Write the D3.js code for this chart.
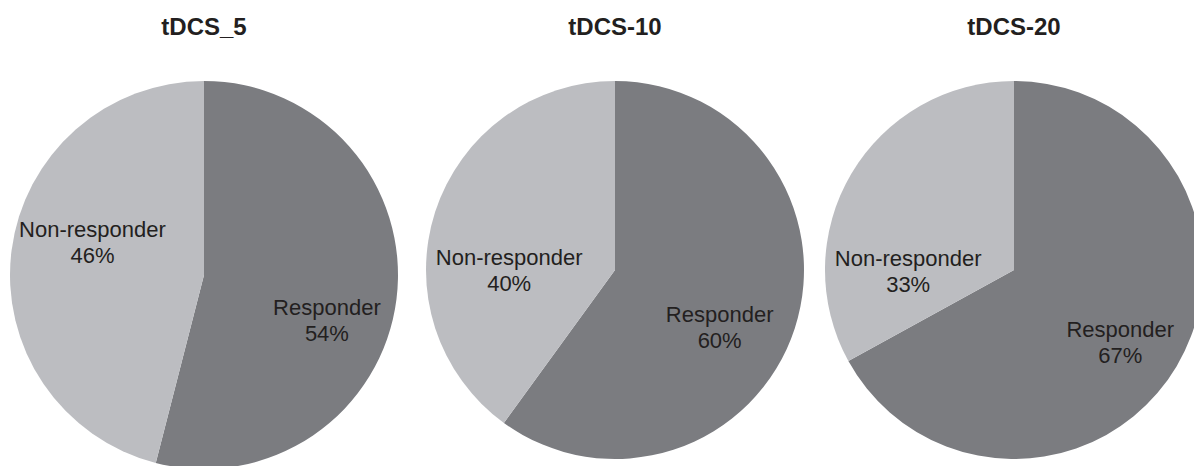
<!DOCTYPE html>
<html>
<head>
<meta charset="utf-8">
<script src="https://cdn.jsdelivr.net/npm/d3@7"></script>
<style>
	html, body { margin: 0; padding: 0; background: #fff; }
	svg { display: block; font-family: "Liberation Sans", Arial, sans-serif; }
	.title { font-weight: bold; font-size: 24px; fill: #231f20; }
	.label { font-size: 22px; fill: #231f20; }
</style>
</head>
<body>
<svg id="pies"></svg>
<script>
const Width = 1194;
const Height = 466;

// chart data
const groups = ["tDCS_5", "tDCS-10", "tDCS-20"];
const categories = ["Responder", "Non-responder"];
const responder = [54, 60, 67];
const nonResponder = [46, 40, 33];

const svg = d3.select("#pies").attr("width", Width).attr("height", Height);

// layout per pie: centre x and radius, all tops sit on the same line
const cx = d3.scaleOrdinal().domain(groups).range([204, 615, 1014]);
const radius = d3.scaleOrdinal().domain(groups).range([194, 189, 189]);
const pieTop = 81;

// where the labels sit: turn away from the slice's middle angle (degrees) and fraction of radius
// (the original labels were placed by hand, not on the centroid)
const labelTurn = { "Responder": [13, 10.5, 3.6], "Non-responder": [9.4, -18, -31.1] };
const labelDist = { "Responder": [0.675, 0.63, 0.68], "Non-responder": [0.6, 0.56, 0.56] };

const color = d3.scaleOrdinal().domain(categories).range(["#7b7c80", "#bcbdc1"]);

// responder first, starting at 12 o'clock and going clockwise
const pie = d3.pie().sort(null).value(d => d.value);

groups.forEach((g, i) => {
	const r = radius(g);
	const slices = pie([
		{ name: categories[0], value: responder[i] },
		{ name: categories[1], value: nonResponder[i] }
	]);
	const arc = d3.arc().innerRadius(0).outerRadius(r);

	const pieG = svg.append("g").attr("transform", `translate(${cx(g)},${pieTop + r})`);
	pieG.selectAll("path").data(slices).enter().append("path")
		.attr("d", arc)
		.attr("fill", d => color(d.data.name));

	const labelPoint = d => {
		const a = (d.startAngle + d.endAngle) / 2 + labelTurn[d.data.name][i] * Math.PI / 180;
		const dist = r * labelDist[d.data.name][i];
		return [Math.sin(a) * dist, -Math.cos(a) * dist];
	};

	// labels: name on one line, percent under it
	const labels = pieG.selectAll("text.label").data(slices).enter().append("text")
		.attr("class", "label")
		.attr("text-anchor", "middle")
		.attr("transform", d => `translate(${labelPoint(d)})`);
	labels.append("tspan").attr("x", 0).attr("y", -5).text(d => d.data.name);
	labels.append("tspan").attr("x", 0).attr("y", 21).text(d => d.data.value + "%");

	svg.append("text").attr("class", "title")
		.attr("x", cx(g)).attr("y", 35)
		.attr("text-anchor", "middle")
		.text(g);
});
</script>
</body>
</html>
